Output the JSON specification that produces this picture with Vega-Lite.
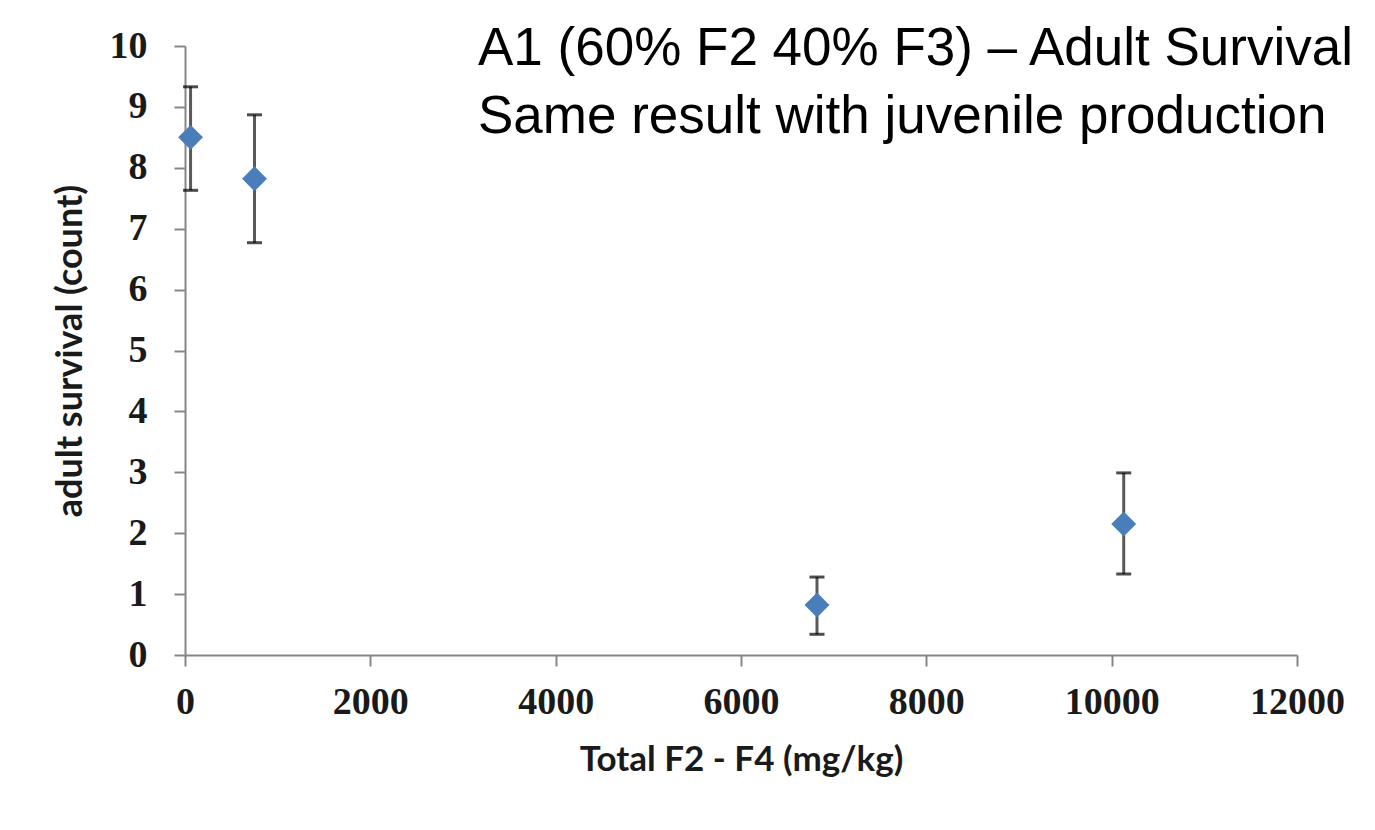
{
  "$schema": "https://vega.github.io/schema/vega-lite/v6.json",
  "autosize": "none",
  "width": 1112,
  "height": 609,
  "padding": {"left": 185, "top": 46, "right": 78, "bottom": 175},
  "background": "white",
  "config": {
    "view": {"stroke": null},
    "axis": {
      "grid": false,
      "domainColor": "#868686",
      "domainWidth": 2,
      "tickColor": "#868686",
      "tickWidth": 2,
      "tickSize": 11,
      "labelFont": "Liberation Serif",
      "labelFontWeight": "bold",
      "labelFontSize": 38,
      "labelColor": "#1a1a1a",
      "titleFont": "Lato",
      "titleFontWeight": "bold",
      "titleFontSize": 35,
      "titleColor": "#1a1a1a"
    }
  },
  "title": {
    "text": ["A1 (60% F2 40% F3) – Adult Survival", "Same result with juvenile production"],
    "font": "Liberation Sans",
    "fontSize": 53,
    "fontWeight": "normal",
    "color": "black",
    "lineHeight": 68,
    "anchor": "start",
    "align": "left",
    "frame": "group",
    "orient": "top",
    "baseline": "top",
    "offset": 0,
    "dx": 293,
    "dy": 117
  },
  "data": {
    "values": [
      {"total": 60, "survival": 8.5, "lo": 7.63, "hi": 9.33},
      {"total": 750, "survival": 7.82, "lo": 6.77, "hi": 8.87},
      {"total": 6820, "survival": 0.82, "lo": 0.34, "hi": 1.28},
      {"total": 10130, "survival": 2.15, "lo": 1.33, "hi": 2.99}
    ]
  },
  "encoding": {
    "x": {
      "field": "total",
      "type": "quantitative",
      "scale": {"domain": [0, 12000], "nice": false, "zero": false},
      "axis": {"values": [0, 2000, 4000, 6000, 8000, 10000, 12000], "format": "d", "title": "Total F2 - F4 (mg/kg)", "labelFlush": false, "labelPadding": 17, "titlePadding": 21}
    }
  },
  "layer": [
    {
      "mark": {"type": "rule", "color": "#5a5a5a", "strokeWidth": 3},
      "encoding": {
        "y": {"field": "lo", "type": "quantitative", "scale": {"domain": [0, 10], "nice": false},
          "axis": {"values": [0, 1, 2, 3, 4, 5, 6, 7, 8, 9, 10], "format": "d", "title": "adult survival (count)", "titleFontSize": 36, "labelFlush": false, "labelPadding": 27, "titlePadding": 20}},
        "y2": {"field": "hi"}
      }
    },
    {
      "mark": {"type": "tick", "orient": "horizontal", "color": "black", "size": 15, "thickness": 3},
      "encoding": {"y": {"field": "lo", "type": "quantitative"}}
    },
    {
      "mark": {"type": "tick", "orient": "horizontal", "color": "black", "size": 15, "thickness": 3},
      "encoding": {"y": {"field": "hi", "type": "quantitative"}}
    },
    {
      "mark": {"type": "point", "shape": "diamond", "filled": true, "color": "#4a7ebb", "opacity": 1, "size": 620},
      "encoding": {"y": {"field": "survival", "type": "quantitative"}}
    }
  ]
}
